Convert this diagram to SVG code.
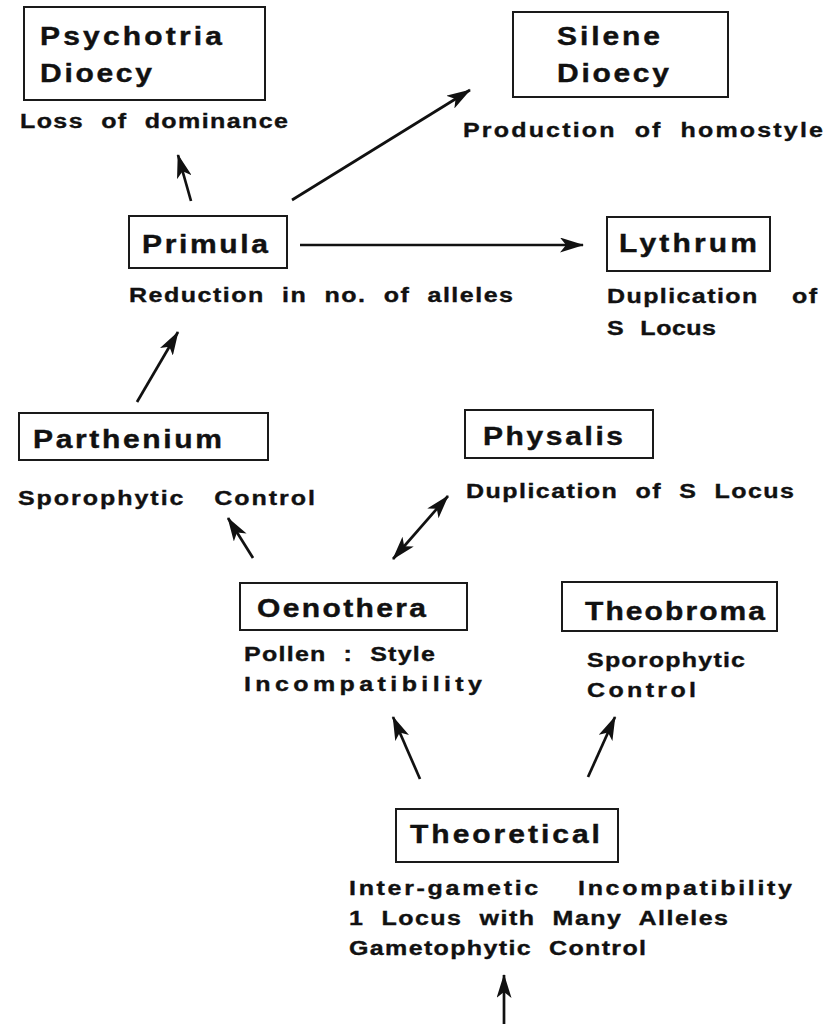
<svg xmlns="http://www.w3.org/2000/svg" width="840" height="1024" viewBox="0 0 840 1024">
<style>
.box{fill:#fff;stroke:#1a1a1a;stroke-width:2}
.t{font-family:"Liberation Sans",Arial,sans-serif;font-weight:bold;font-size:25px;fill:#111;stroke:#111;stroke-width:0.4}
.s{font-family:"Liberation Sans",Arial,sans-serif;font-weight:bold;font-size:20px;fill:#111;stroke:#111;stroke-width:0.35;word-spacing:7px}
.c line{stroke:#111;stroke-width:2.7;fill:none}
</style>
<defs>
<marker id="ah" viewBox="0 0 24 15" refX="23" refY="7.5" markerWidth="24" markerHeight="15" markerUnits="userSpaceOnUse" orient="auto-start-reverse">
<path d="M0,0 L24,7.5 L0,15 L6,7.5 z" fill="#111"/>
</marker>
</defs>
<rect width="840" height="1024" fill="#fff"/>
<g id="psychotria">
<rect class="box" x="24" y="7" width="241" height="93"/>
<text class="t" transform="translate(40,45) scale(1.2,1)" textLength="151.7" lengthAdjust="spacing">Psychotria</text>
<text class="t" transform="translate(40,82) scale(1.2,1)" textLength="93.3" lengthAdjust="spacing">Dioecy</text>
<text class="s" transform="translate(20,128) scale(1.25,1)" textLength="214.4" lengthAdjust="spacing">Loss of dominance</text>
</g>
<g id="silene">
<rect class="box" x="513" y="12" width="215" height="85"/>
<text class="t" transform="translate(557,45) scale(1.2,1)" textLength="85.8" lengthAdjust="spacing">Silene</text>
<text class="t" transform="translate(557,82) scale(1.2,1)" textLength="93.3" lengthAdjust="spacing">Dioecy</text>
<text class="s" transform="translate(463,137) scale(1.25,1)" textLength="288" lengthAdjust="spacing">Production of homostyle</text>
</g>
<g id="primula">
<rect class="box" x="129" y="216" width="158" height="52"/>
<text class="t" transform="translate(142,253) scale(1.2,1)" textLength="105" lengthAdjust="spacing">Primula</text>
<text class="s" transform="translate(129,302) scale(1.25,1)" textLength="307.2" lengthAdjust="spacing">Reduction in no. of alleles</text>
</g>
<g id="lythrum">
<rect class="box" x="607" y="217" width="163" height="54"/>
<text class="t" transform="translate(619,252) scale(1.2,1)" textLength="115" lengthAdjust="spacing">Lythrum</text>
<text class="s" transform="translate(607,303) scale(1.25,1)" textLength="168" lengthAdjust="spacing" style="word-spacing:20px">Duplication of</text>
<text class="s" transform="translate(607,335) scale(1.25,1)" textLength="87.2" lengthAdjust="spacing">S Locus</text>
</g>
<g id="parthenium">
<rect class="box" x="19" y="413" width="249" height="47"/>
<text class="t" transform="translate(33,448) scale(1.2,1)" textLength="157.5" lengthAdjust="spacing">Parthenium</text>
<text class="s" transform="translate(18,505) scale(1.25,1)" textLength="237.6" lengthAdjust="spacing" style="word-spacing:16px">Sporophytic Control</text>
</g>
<g id="physalis">
<rect class="box" x="465" y="410" width="188" height="48"/>
<text class="t" transform="translate(483,445) scale(1.2,1)" textLength="116.7" lengthAdjust="spacing">Physalis</text>
<text class="s" transform="translate(466,498) scale(1.25,1)" textLength="262.4" lengthAdjust="spacing">Duplication of S Locus</text>
</g>
<g id="oenothera">
<rect class="box" x="240" y="583" width="227" height="47"/>
<text class="t" transform="translate(257,617) scale(1.2,1)" textLength="140.8" lengthAdjust="spacing">Oenothera</text>
<text class="s" transform="translate(244,661) scale(1.25,1)" textLength="152.8" lengthAdjust="spacing">Pollen : Style</text>
<text class="s" transform="translate(244,691) scale(1.25,1)" textLength="190.4" lengthAdjust="spacing">Incompatibility</text>
</g>
<g id="theobroma">
<rect class="box" x="562" y="582" width="215" height="49"/>
<text class="t" transform="translate(585,620) scale(1.2,1)" textLength="150" lengthAdjust="spacing">Theobroma</text>
<text class="s" transform="translate(587,667) scale(1.25,1)" textLength="126.4" lengthAdjust="spacing">Sporophytic</text>
<text class="s" transform="translate(587,697) scale(1.25,1)" textLength="87.2" lengthAdjust="spacing">Control</text>
</g>
<g id="theoretical">
<rect class="box" x="396" y="809" width="222" height="53"/>
<text class="t" transform="translate(410,843) scale(1.2,1)" textLength="158.3" lengthAdjust="spacing">Theoretical</text>
<text class="s" transform="translate(349,895) scale(1.25,1)" textLength="354.4" lengthAdjust="spacing" style="word-spacing:22px">Inter-gametic Incompatibility</text>
<text class="s" transform="translate(349,925) scale(1.25,1)" textLength="303.2" lengthAdjust="spacing">1 Locus with Many Alleles</text>
<text class="s" transform="translate(349,955) scale(1.25,1)" textLength="237.6" lengthAdjust="spacing">Gametophytic Control</text>
</g>
<g id="connectors" class="c">
<line x1="191" y1="201" x2="178" y2="155" marker-end="url(#ah)"/>
<line x1="292" y1="200" x2="470" y2="90" marker-end="url(#ah)"/>
<line x1="300" y1="245" x2="583" y2="245" marker-end="url(#ah)"/>
<line x1="137" y1="402" x2="178" y2="332" marker-end="url(#ah)"/>
<line x1="253" y1="558" x2="228" y2="518" marker-end="url(#ah)"/>
<line x1="393" y1="559" x2="448" y2="496" marker-start="url(#ah)" marker-end="url(#ah)"/>
<line x1="420" y1="779" x2="393" y2="717" marker-end="url(#ah)"/>
<line x1="588" y1="777" x2="615" y2="717" marker-end="url(#ah)"/>
<line x1="504" y1="1024" x2="504" y2="975" marker-end="url(#ah)"/>
</g>
</svg>
